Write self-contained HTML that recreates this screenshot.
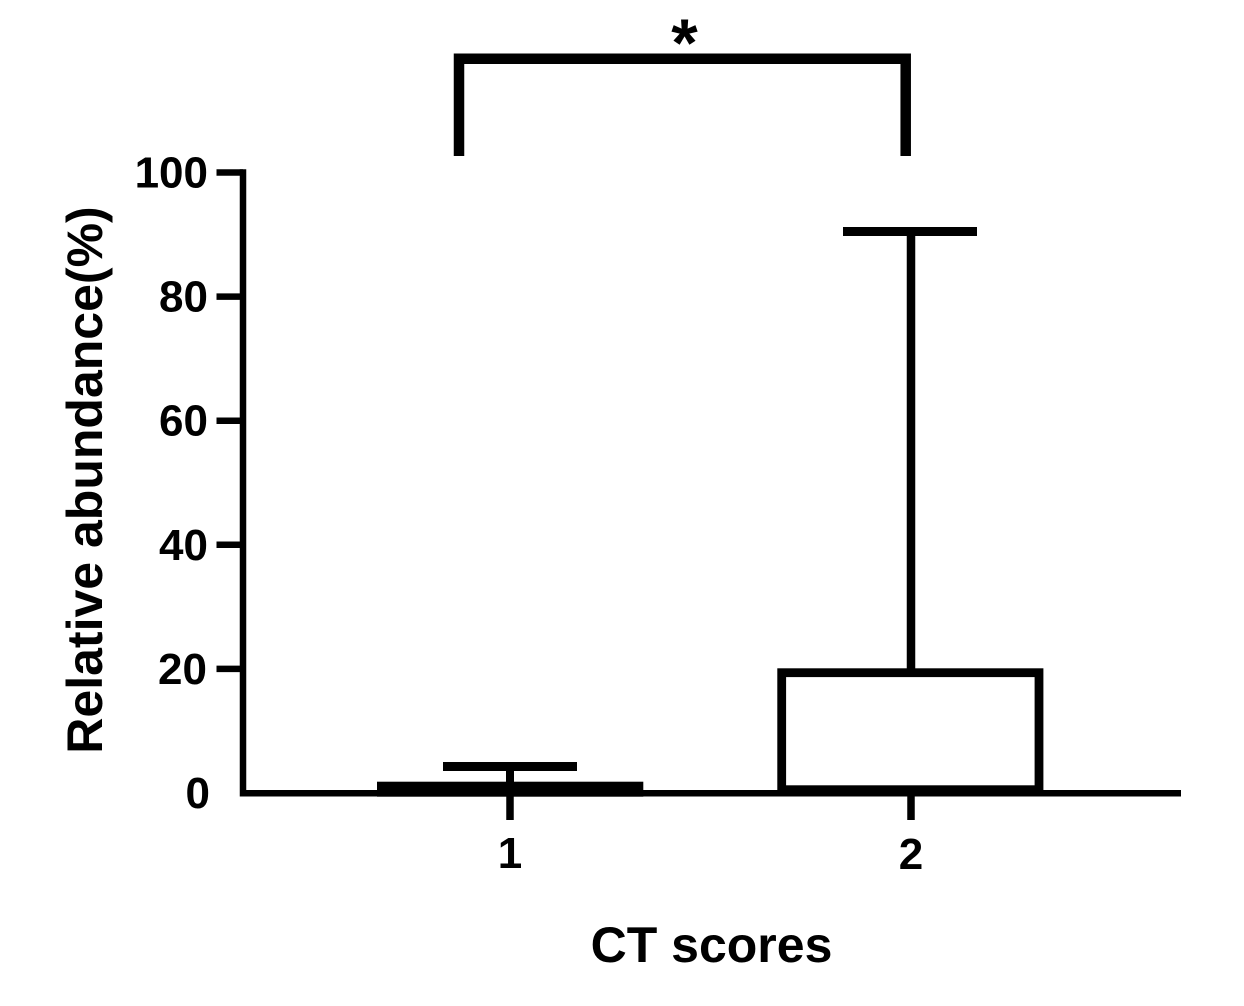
<!DOCTYPE html>
<html>
<head>
<meta charset="utf-8">
<style>
  html, body { margin:0; padding:0; background:#fff; }
  svg { display:block; }
  text { font-family: "Liberation Sans", Arial, sans-serif; font-weight: bold; fill:#000; }
</style>
</head>
<body>
<svg width="1244" height="1006" viewBox="0 0 1244 1006" xmlns="http://www.w3.org/2000/svg">
  <rect x="0" y="0" width="1244" height="1006" fill="#fff"/>

  <!-- significance bracket -->
  <path d="M459,156 L459,58.7 L905.7,58.7 L905.7,156" fill="none" stroke="#000" stroke-width="10.5" stroke-linejoin="miter"/>
  <text x="684.5" y="66" font-size="68" text-anchor="middle">*</text>

  <!-- y axis -->
  <line x1="243" y1="169.3" x2="243" y2="796.5" stroke="#000" stroke-width="6.5"/>
  <!-- y ticks -->
  <g stroke="#000" stroke-width="6.5">
    <line x1="216.5" y1="172.5" x2="243" y2="172.5"/>
    <line x1="216.5" y1="296.6" x2="243" y2="296.6"/>
    <line x1="216.5" y1="420.7" x2="243" y2="420.7"/>
    <line x1="216.5" y1="544.8" x2="243" y2="544.8"/>
    <line x1="216.5" y1="668.9" x2="243" y2="668.9"/>
  </g>
  <!-- y tick labels -->
  <g font-size="44" text-anchor="end">
    <text x="208" y="187.5">100</text>
    <text x="208" y="311.6">80</text>
    <text x="208" y="435.7">60</text>
    <text x="208" y="559.8">40</text>
    <text x="207" y="683.9">20</text>
    <text x="210" y="808">0</text>
  </g>

  <!-- x axis -->
  <line x1="240" y1="793.3" x2="1181" y2="793.3" stroke="#000" stroke-width="6.5"/>
  <!-- x ticks -->
  <line x1="510" y1="793" x2="510" y2="820" stroke="#000" stroke-width="7.5"/>
  <line x1="911" y1="793" x2="911" y2="820" stroke="#000" stroke-width="7.5"/>
  <!-- x tick labels -->
  <text x="510" y="868" font-size="44" text-anchor="middle">1</text>
  <text x="911" y="869" font-size="44" text-anchor="middle">2</text>

  <!-- group 1: box (very small, appears solid) and whisker -->
  <rect x="377" y="781.7" width="266.3" height="15" fill="#000"/>
  <line x1="510" y1="766" x2="510" y2="782" stroke="#000" stroke-width="8"/>
  <line x1="443" y1="766.5" x2="577" y2="766.5" stroke="#000" stroke-width="9"/>

  <!-- group 2: box and whisker -->
  <rect x="781.7" y="672.7" width="257.3" height="117" fill="none" stroke="#000" stroke-width="8.8"/>
  <line x1="911" y1="232" x2="911" y2="669" stroke="#000" stroke-width="8.5"/>
  <line x1="843" y1="231.5" x2="977" y2="231.5" stroke="#000" stroke-width="9"/>

  <!-- axis titles -->
  <text x="711.5" y="962" font-size="50" text-anchor="middle">CT scores</text>
  <text transform="translate(102,480) rotate(-90)" x="0" y="0" font-size="50" text-anchor="middle">Relative abundance(%)</text>
</svg>
</body>
</html>
